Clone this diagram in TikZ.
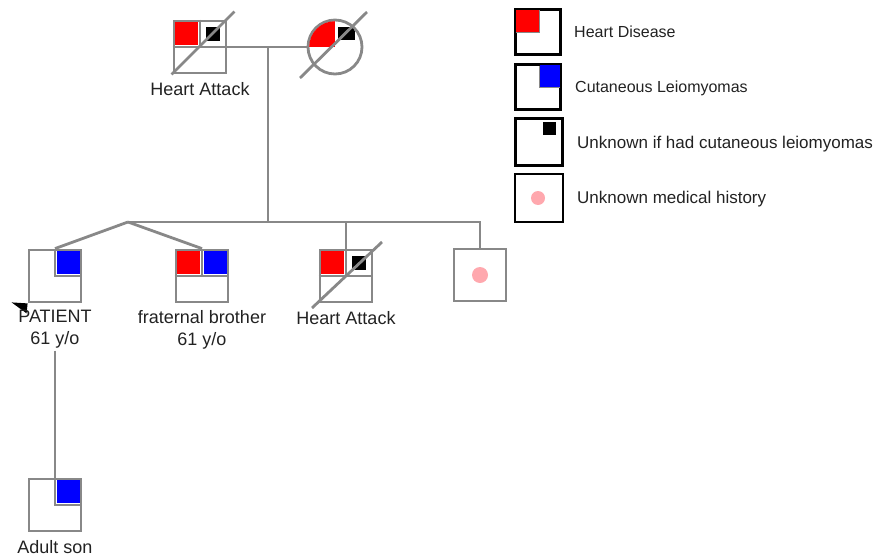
\documentclass[tikz,border=0pt]{standalone}
\usepackage{fontspec}
\setmainfont{Liberation Sans}
\usetikzlibrary{calc}
\definecolor{pgrey}{HTML}{888888}
\definecolor{ptext}{HTML}{222222}
\definecolor{ppink}{HTML}{FFA8AE}
\begin{document}
\begin{tikzpicture}[x=1pt,y=-1pt,
  person/.style={draw=pgrey,line width=2.8pt,minimum size=52pt,inner sep=0pt},
  male/.style={person,rectangle},
  female/.style={person,circle,minimum size=54pt},
  key/.style={draw=black,line width=2.5pt,rectangle,minimum size=45pt,inner sep=0pt},
  conn/.style={draw=pgrey,line width=2.8pt},
  divider/.style={draw=pgrey,line width=2.8pt},
  lbl/.style={font=\fontsize{18}{22}\selectfont,text=ptext,inner sep=0pt,align=center},
  keytext/.style={text=ptext,inner sep=0pt,anchor=base west},
]
\useasboundingbox (0,0) rectangle (873,557);

% ---------- individuals ----------
\node[male]   (gf) at (200,47) {};
\node[female] (gm) at (335,47) {};
\node[male]   (p)  at (55,276) {};
\node[male]   (b)  at (202,276) {};
\node[male]   (h)  at (346,276) {};
\node[male]   (u)  at (480,275) {};
\node[male]   (s)  at (55,505) {};

% ---------- fills ----------
% grandfather
\fill[red] ($(gf.north west)+(2.5,2.5)$) rectangle ($(gf.center)+(-2,-2)$);
\fill[black] ($(gf.center)+(5.5,-20.5)$) rectangle ($(gf.center)+(20,-6.5)$);
\draw[divider] (gf.west) -- (gf.east);
\draw[divider] (gf.north) -- (gf.center);
% grandmother
\begin{scope}
  \clip (gm.center) circle[radius=25.8];
  \fill[red] ($(gm.center)+(-27,-27)$) rectangle (gm.center);
  \fill[black] ($(gm.center)+(3,-20)$) rectangle ($(gm.center)+(20,-7)$);
\end{scope}
% patient
\fill[blue] ($(p.center)+(2,-2)$) rectangle ($(p.north east)+(-2.5,2.5)$);
\draw[divider] (p.north) -- (p.center) -- (p.east);
% brother
\fill[red] ($(b.north west)+(2.5,2.5)$) rectangle ($(b.center)+(-2,-2)$);
\fill[blue] ($(b.center)+(2,-2)$) rectangle ($(b.north east)+(-2.5,2.5)$);
\draw[divider] (b.west) -- (b.east);
\draw[divider] (b.north) -- (b.center);
% third sibling
\fill[red] ($(h.north west)+(2.5,2.5)$) rectangle ($(h.center)+(-2,-2)$);
\fill[black] ($(h.center)+(5.5,-20.5)$) rectangle ($(h.center)+(20,-6.5)$);
\draw[divider] (h.west) -- (h.east);
\draw[divider] (h.north) -- (h.center);
% fourth sibling
\fill[ppink] (u.center) circle[radius=8];
% son
\fill[blue] ($(s.center)+(2,-2)$) rectangle ($(s.north east)+(-2.5,2.5)$);
\draw[divider] (s.north) -- (s.center) -- (s.east);

% ---------- deceased slashes ----------
\draw[conn] ($(gf.south west)+(-1,0)$) -- ($(gf.north east)+(7,-8)$);
\draw[conn] ($(gm.center)+(-35,31)$) -- ($(gm.center)+(32,-35)$);
\draw[conn] ($(h.center)+(-34,32)$) -- ($(h.center)+(36,-34)$);

% ---------- proband arrow ----------
\fill[black] (p.south west) ++(-16,-1) -- (p.south west) -- ++(-1,10) -- cycle;

% ---------- labels ----------
\node[lbl,anchor=base] (gfl) at (200,95) {Heart Attack};
\node[lbl,anchor=north] (pl) at (55,310) {PATIENT\\61 y/o};
\node[lbl,anchor=north] (bl) at (202,310) {fraternal brother\\61 y/o};
\node[lbl,anchor=base] (hl) at (346,324) {Heart Attack};
\node[lbl,anchor=base] (sl) at (55,553) {Adult son};

% ---------- connectors ----------
\coordinate (mm) at (268,47);
\coordinate (tw) at (128,222);
\draw[conn] (gf.east) -- (gm.west);
\draw[conn] (mm) -- (mm |- tw);
\draw[conn] (tw) -| (u.north);
\draw[conn] (h.north |- tw) -- (h.north);
\draw[conn] (tw) -- (p.north);
\draw[conn] (tw) -- (b.north);
\draw[conn] (pl.south -| s.north) ++(0,2) -- (s.north);

% ---------- legend ----------
\node[key] (k1) at (538,32) {};
\fill[red] (k1.north west) ++(1.5,1.5) rectangle ($(k1.center)+(1,0)$);
\draw[pgrey,line width=1.2pt] ($(k1.center)+(1.6,-22)$) -- ($(k1.center)+(1.6,0.6)$) -- ($(k1.center)+(-22,0.6)$);
\node[keytext,font=\fontsize{16}{19}\selectfont] (t1) at (574,37) {Heart Disease};

\node[key] (k2) at (538,87) {};
\fill[blue] ($(k2.center)+(2,0)$) rectangle ($(k2.north east)+(-1.5,1.5)$);
\draw[pgrey,line width=1.2pt] ($(k2.center)+(1.4,-21.5)$) -- ($(k2.center)+(1.4,0.6)$) -- ($(k2.center)+(22,0.6)$);
\node[keytext,font=\fontsize{16}{19}\selectfont] (t2) at (575,92) {Cutaneous Leiomyomas};

\node[key,minimum size=47pt] (k3) at (539,142) {};
\fill[black] ($(k3.center)+(4,-20)$) rectangle ($(k3.center)+(17,-7)$);
\node[keytext,font=\fontsize{17}{20}\selectfont] (t3) at (577,148) {Unknown if had cutaneous leiomyomas};

\node[key,minimum size=48pt] (k4) at (539,198) {};
\fill[ppink] ($(k4.center)+(-1,0)$) circle[radius=7];
\node[keytext,font=\fontsize{17}{20}\selectfont] (t4) at (577,203) {Unknown medical history};
\end{tikzpicture}
\end{document}
